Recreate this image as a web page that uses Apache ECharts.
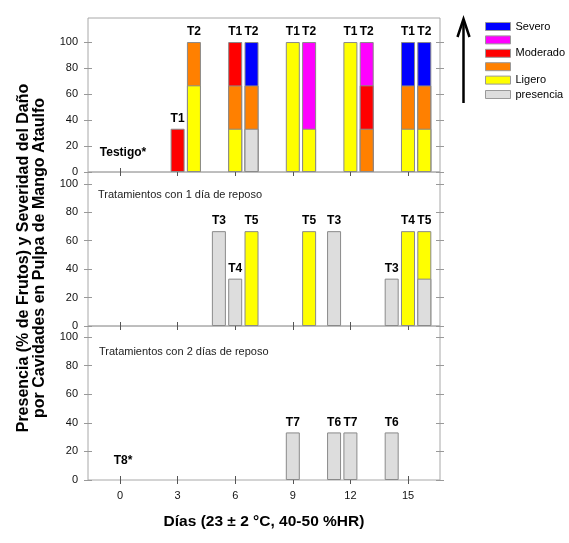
<!DOCTYPE html>
<html lang="es">
<head>
<meta charset="UTF-8">
<title>Daño por cavidades en pulpa de mango Ataulfo</title>
<script src="https://cdn.jsdelivr.net/npm/echarts@6/dist/echarts.min.js"></script>
<style>html,body{margin:0;padding:0;background:#fff}#main{width:569px;height:543px}</style>
</head>
<body>
<div id="main"></div>
<script>
// panel superior: testigo, T1 y T2
var dias1 = [0, 3, 3.85, 6, 6.85, 9, 9.85, 12, 12.85, 15, 15.85];
var trat1 = ['Testigo*', 'T1', 'T2', 'T1', 'T2', 'T1', 'T2', 'T1', 'T2', 'T1', 'T2'];
var presencia1 = [0, null, null, null, 33.3, null, null, null, null, null, null];
var ligero1    = [null, null, 66.7, 33.3, null, 100, 33.3, 100, null, 33.3, 33.3];
var naranja1   = [null, null, 33.3, 33.3, 33.3, null, null, null, 33.3, 33.3, 33.3];
var moderado1  = [null, 33.3, null, 33.4, null, null, null, null, 33.4, null, null];
var magenta1   = [null, null, null, null, null, null, 66.7, null, 33.3, null, null];
var severo1    = [null, null, null, null, 33.4, null, null, null, null, 33.4, 33.4];

// panel medio: 1 dia de reposo
var dias2 = [5.15, 6, 6.85, 9.85, 11.15, 14.15, 15, 15.85];
var trat2 = ['T3', 'T4', 'T5', 'T5', 'T3', 'T3', 'T4', 'T5'];
var presencia2 = [66.7, 33.3, null, null, 66.7, 33.3, null, 33.3];
var ligero2    = [null, null, 66.7, 66.7, null, null, 66.7, 33.4];

// panel inferior: 2 dias de reposo
var dias3 = [0, 9, 11.15, 12, 14.15];
var trat3 = ['T8*', 'T7', 'T6', 'T7', 'T6'];
var presencia3 = [0, 33.3, 33.3, 33.3, 33.3];

var diasTicks = [0, 3, 6, 9, 12, 15];
var pctTicks = [0, 20, 40, 60, 80, 100];

var colores = {
    'presencia': '#dddddd',
    'Ligero': '#ffff00',
    'Ligero/Moderado': '#ff8000',
    'Moderado': '#ff0000',
    'Moderado/Severo': '#ff00ff',
    'Severo': '#0000ff'
};
var fuente = 'Liberation Sans, Arial, Helvetica, sans-serif';

// barras acumuladas superpuestas (la capa de arriba se dibuja primero);
// la etiqueta del tratamiento va en la capa superior de cada barra
function panel(idx, dias, trat, capas) {
    var out = [];
    capas.forEach(function (capa, c) {
        var data = dias.map(function (d, i) {
            var v = capa.vals[i];
            if (v == null) return { value: [d, '-'] };
            var acum = 0;
            for (var k = 0; k <= c; k++) acum += capas[k].vals[i] || 0;
            var item = { value: [d, acum] };
            var arriba = true;
            for (var k2 = c + 1; k2 < capas.length; k2++) {
                if (capas[k2].vals[i] != null) arriba = false;
            }
            if (arriba) {
                item.label = { show: true, formatter: trat[i], distance: v === 0 ? 13 : 4 };
                if (v === 0) item.label.offset = [3, 0];
            }
            if (v === 0) item.itemStyle = { color: 'transparent', borderWidth: 0 };
            return item;
        });
        out.unshift({
            name: capa.name,
            type: 'bar',
            xAxisIndex: idx,
            yAxisIndex: idx * 2,
            barWidth: 14,
            barGap: '-100%',
            itemStyle: { color: colores[capa.name], borderColor: '#8a8a8a', borderWidth: 1 },
            label: { position: 'top', color: '#000', fontWeight: 'bold', fontSize: 12, fontFamily: fuente },
            emphasis: { disabled: true },
            data: data
        });
    });
    return out;
}

var series = [].concat(
    panel(0, dias1, trat1, [
        { name: 'presencia', vals: presencia1 },
        { name: 'Ligero', vals: ligero1 },
        { name: 'Ligero/Moderado', vals: naranja1 },
        { name: 'Moderado', vals: moderado1 },
        { name: 'Moderado/Severo', vals: magenta1 },
        { name: 'Severo', vals: severo1 }
    ]),
    panel(1, dias2, trat2, [
        { name: 'presencia', vals: presencia2 },
        { name: 'Ligero', vals: ligero2 }
    ]),
    panel(2, dias3, trat3, [
        { name: 'presencia', vals: presencia3 }
    ])
);

var grids = [], xAxes = [], yAxes = [];
var tops = [18, 172, 326];
var maxs = [118.5, 108.3, 107.8];
tops.forEach(function (t, i) {
    grids.push({ left: 88, width: 352, top: t, height: 154, show: true, borderColor: '#a8a8a8', borderWidth: 1 });
    xAxes.push({
        type: 'value', gridIndex: i, min: -1.667, max: 16.667, offset: -4,
        splitLine: { show: false },
        axisLine: { show: false, onZero: false },
        axisTick: { length: 8, lineStyle: { color: '#555' }, customValues: diasTicks },
        axisLabel: { show: i === 2, margin: 14, fontSize: 11, color: '#111', fontFamily: fuente, customValues: diasTicks },
        name: i === 2 ? 'Días (23 ± 2 °C, 40-50 %HR)' : '',
        nameLocation: 'middle', nameGap: 38,
        nameTextStyle: { fontSize: 15.5, fontWeight: 'bold', color: '#000', fontFamily: fuente }
    });
    yAxes.push({
        type: 'value', gridIndex: i, position: 'left', min: 0, max: maxs[i], offset: -4,
        splitLine: { show: false },
        axisLine: { show: false, onZero: false },
        axisTick: { length: 8, lineStyle: { color: '#999' }, customValues: pctTicks },
        axisLabel: { margin: 14, fontSize: 11, color: '#111', fontFamily: fuente, customValues: pctTicks }
    });
    yAxes.push({
        type: 'value', gridIndex: i, position: 'right', min: 0, max: maxs[i], offset: -4,
        splitLine: { show: false },
        axisLine: { show: false, onZero: false },
        axisTick: { length: 8, lineStyle: { color: '#999' }, customValues: pctTicks },
        axisLabel: { show: false, customValues: pctTicks }
    });
});

var chart = echarts.init(document.getElementById('main'));
chart.setOption({
    animation: false,
    textStyle: { fontFamily: fuente },
    grid: grids,
    xAxis: xAxes,
    yAxis: yAxes,
    legend: {
        orient: 'vertical', left: 480, top: 16,
        itemWidth: 25, itemHeight: 8, itemGap: 3.4,
        icon: 'rect', selectedMode: false,
        itemStyle: { borderColor: '#999', borderWidth: 1 },
        data: ['Severo', 'Moderado/Severo', 'Moderado', 'Ligero/Moderado', 'Ligero', 'presencia'],
        formatter: function (n) { return n.indexOf('/') >= 0 ? '' : n; },
        textStyle: { fontSize: 11, color: '#000', fontFamily: fuente }
    },
    graphic: [
        { type: 'line', shape: { x1: 463.5, y1: 103, x2: 463.5, y2: 20 }, style: { stroke: '#000', lineWidth: 2.5 } },
        { type: 'polyline', shape: { points: [[457.5, 37], [463.5, 19], [469.5, 37]] }, style: { stroke: '#000', lineWidth: 2.5, fill: null } },
        { type: 'text', left: 98, top: 189, style: { text: 'Tratamientos con 1 día de reposo', fill: '#222', font: '11px ' + fuente } },
        { type: 'text', left: 99, top: 346, style: { text: 'Tratamientos con 2 días de reposo', fill: '#222', font: '11px ' + fuente } },
        {
            type: 'text', x: 31.5, y: 258, rotation: Math.PI / 2,
            style: {
                text: 'Presencia (% de Frutos) y Severidad del Daño\npor Cavidades en Pulpa de Mango Ataulfo',
                font: 'bold 16px ' + fuente, fill: '#000', align: 'center', verticalAlign: 'middle', lineHeight: 16
            }
        }
    ],
    series: series
});
</script>
</body>
</html>
